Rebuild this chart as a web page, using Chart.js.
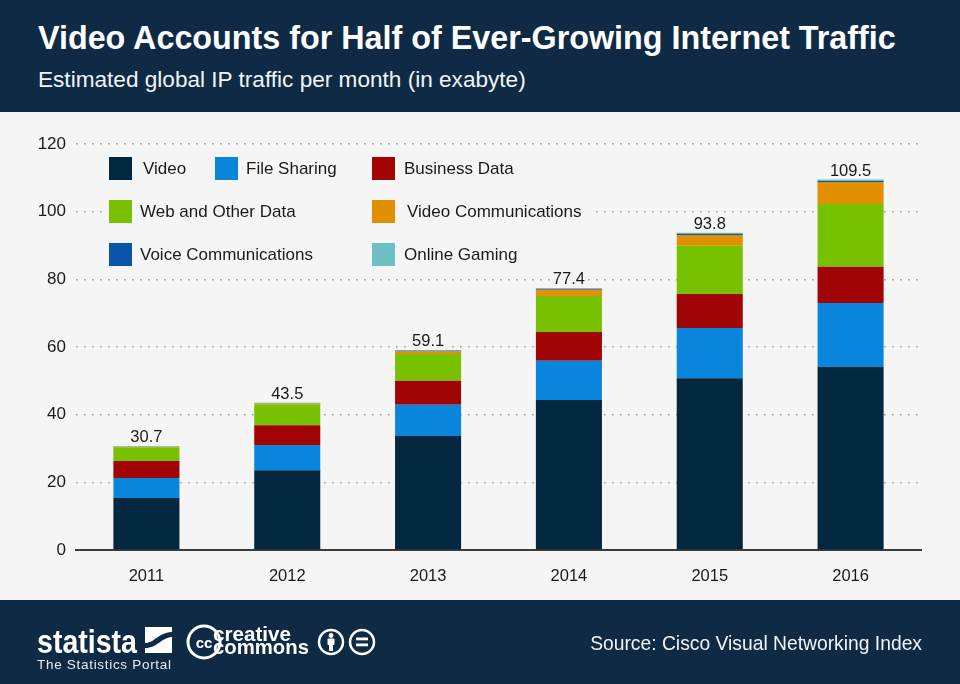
<!DOCTYPE html>
<html><head><meta charset="utf-8">
<script src="https://cdn.jsdelivr.net/npm/chart.js@4"></script>
<style>
html,body{margin:0;padding:0;width:960px;height:684px;overflow:hidden;background:#f5f5f5;font-family:"Liberation Sans",Arial,sans-serif}
#header,#footer{position:absolute;left:0;width:960px;background:#0e2a45;color:#fff}
#header{top:0;height:112px}
#footer{top:600px;height:84px}
#title{position:absolute;left:38px;top:20px;font-size:32.3px;font-weight:bold;white-space:nowrap}
#sub{position:absolute;left:38px;top:67px;font-size:22.6px;color:#f2f4f6;white-space:nowrap}
#source{position:absolute;right:38px;top:33px;font-size:19.3px;white-space:nowrap;color:#f2f4f6}
#wrap{position:absolute;left:0;top:112px;width:960px;height:488px}
#legend{position:absolute;left:0;top:0;width:960px;height:684px;pointer-events:none;color:#1a1a1a;font-size:17px}
.strip{position:absolute;background:#f5f5f5}
.sw{position:absolute;width:23px;height:23px}
.lt{position:absolute;white-space:nowrap;line-height:23px}
svg{position:absolute;left:0;top:0}
</style></head><body>
<div id="header"><div id="title">Video Accounts for Half of Ever-Growing Internet Traffic</div><div id="sub">Estimated global IP traffic per month (in exabyte)</div></div>
<div id="wrap"><canvas id="c" width="960" height="488"></canvas></div>
<div id="legend"></div>
<div id="footer">
<svg width="960" height="84" viewBox="0 0 960 84">
<g fill="#fff" font-family="Liberation Sans">
<text x="37" y="53" font-size="33" font-weight="bold" textLength="100" lengthAdjust="spacingAndGlyphs">statista</text>
<text x="37" y="69" font-size="13.5" fill="#e8ecf0" textLength="134" lengthAdjust="spacing">The Statistics Portal</text>
<rect x="145" y="27" width="27" height="26"/>
<path d="M145 43 C155 43 157 33 172 32 L172 37 C160 38 158 48 145 48 Z" fill="#0e2a45"/>
<circle cx="204" cy="42" r="16" fill="none" stroke="#fff" stroke-width="3"/>
<text x="204" y="47.5" font-size="15" font-weight="bold" text-anchor="middle">cc</text>
<text x="213" y="41" font-size="21" font-weight="bold" textLength="78" lengthAdjust="spacingAndGlyphs">creative</text>
<text x="213" y="54" font-size="21" font-weight="bold" textLength="96" lengthAdjust="spacingAndGlyphs">commons</text>
<circle cx="331" cy="42" r="12" fill="none" stroke="#fff" stroke-width="2.5"/>
<circle cx="331" cy="35.5" r="2.4"/><rect x="327.5" y="38.5" width="7" height="6.5" rx="1"/><rect x="329" y="44" width="4" height="7"/>
<circle cx="362" cy="42" r="12" fill="none" stroke="#fff" stroke-width="2.5"/>
<rect x="356" y="37.5" width="12" height="2.8"/><rect x="356" y="43.5" width="12" height="2.8"/>
</g></svg>
<div id="source">Source: Cisco Visual Networking Index</div>
</div>
<script>
const years = ["2011","2012","2013","2014","2015","2016"];
const video = [15.4,23.6,33.7,44.3,50.8,54.1];
const fileSharing = [5.9,7.4,9.2,11.6,14.8,18.9];
const businessData = [5.0,5.9,7.1,8.5,10.1,10.7];
const webOther = [4.1,6.2,7.9,10.7,14.2,18.6];
const videoComm = [0.1,0.2,0.8,1.8,3.2,6.5];
const voiceComm = [0.1,0.1,0.2,0.3,0.4,0.3];
const onlineGaming = [0.1,0.1,0.2,0.2,0.3,0.4];
const totals = [30.7,43.5,59.1,77.4,93.8,109.5];
const yTicks = [0,20,40,60,80,100,120];

const seriesNames = ["Video","File Sharing","Business Data","Web and Other Data","Video Communications","Voice Communications","Online Gaming"];
const seriesColors = ["#03273f","#0a85dc","#a10404","#78c100","#e09000","#0a55aa","#6dbfc3"];
const seriesData = [video,fileSharing,businessData,webOther,videoComm,voiceComm,onlineGaming];

const F = '"Liberation Sans",Arial,sans-serif';
const totalLabels = {
  id:'totalLabels',
  afterDatasetsDraw(ch){
    const {ctx,scales:{x,y}} = ch;
    ctx.save();
    ctx.font = '16.5px '+F;
    ctx.textAlign='center'; ctx.textBaseline='alphabetic';
    totals.forEach((t,i)=>{
      const px=x.getPixelForValue(i), py=y.getPixelForValue(t);
      const s=t.toFixed(1), w=ctx.measureText(s).width;
      ctx.fillStyle='#f5f5f5';
      ctx.fillRect(px-w/2-3,py-19,w+6,17);
      ctx.fillStyle='#1a1a1a';
      ctx.fillText(s,px,py-4);
    });
    ctx.restore();
  }
};
new Chart(document.getElementById('c'),{
  type:'bar',
  data:{labels:years,datasets:seriesNames.map((n,i)=>({label:n,data:seriesData[i],backgroundColor:seriesColors[i],borderWidth:0}))},
  plugins:[totalLabels],
  options:{
    responsive:false,animation:false,
    layout:{padding:{top:32,right:39,left:0,bottom:0}},
    plugins:{legend:{display:false},tooltip:{enabled:false},title:{display:false}},
    datasets:{bar:{barPercentage:0.469,categoryPercentage:1}},
    scales:{
      x:{stacked:true,
        grid:{display:false},
        border:{display:true,color:'#3c3c3c',width:2},
        ticks:{color:'#1a1a1a',font:{family:F,size:16.5},padding:9,maxRotation:0},
        afterFit(s){s.height=50;}
      },
      y:{stacked:true,min:0,max:120,
        afterBuildTicks(s){s.ticks=yTicks.map(v=>({value:v}));},
        afterFit(s){s.width=76;},
        grid:{color:c=>c.tick&&c.tick.value===0?'rgba(0,0,0,0)':'#9a9a9a',lineWidth:1.6,drawTicks:false},
        border:{display:false,dash:[1.6,6.4]},
        ticks:{color:'#1a1a1a',font:{family:F,size:17},padding:10}
      }
    }
  }
});

const legendLayout = [
  [109,157,143],[215,157,246],[372,157,404],
  [109,200,140],[372,200,407],
  [109,243,140],[372,243,404]
];
const lg=document.getElementById('legend');
const strip=document.createElement('div');strip.className='strip';
strip.style.cssText='left:108px;top:200px;width:486px;height:23px';
lg.appendChild(strip);
seriesNames.forEach((n,i)=>{
  const [sx,sy,tx]=legendLayout[i];
  const a=document.createElement('div');a.className='sw';a.style.cssText=`left:${sx}px;top:${sy}px;background:${seriesColors[i]}`;
  const b=document.createElement('div');b.className='lt';b.style.cssText=`left:${tx}px;top:${sy}px`;b.textContent=n;
  lg.appendChild(a);lg.appendChild(b);
});
</script>
</body></html>
